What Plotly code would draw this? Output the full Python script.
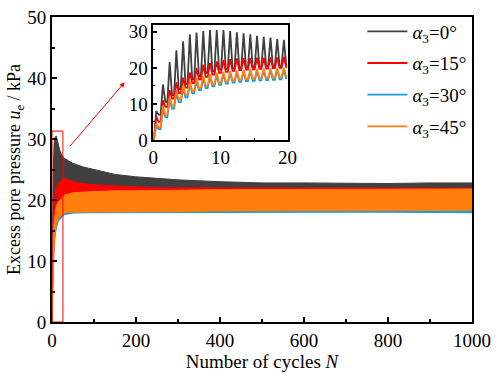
import plotly.graph_objects as go

# ---------------- data ----------------
series_names = ["<i>α</i><sub>3</sub>=0°", "<i>α</i><sub>3</sub>=15°",
                "<i>α</i><sub>3</sub>=30°", "<i>α</i><sub>3</sub>=45°"]
colors = ["#404040", "#FF0000", "#1E9BD7", "#FF7F0E"]

# envelope of the dense cyclic signal (main plot)
N_env = [0, 1, 2, 3, 5, 7, 10, 15, 20, 25, 30, 40, 50, 75, 100, 150, 200, 250,
         300, 400, 500, 600, 700, 800, 900, 1000]
gray_up = [0, 15.4, 21.6, 24.9, 29.3, 30.2, 30.5, 29.0, 27.8, 27.2, 26.8, 26.4, 26.0,
           25.4, 25.0, 24.2, 23.8, 23.5, 23.3, 23.0, 22.8, 22.8, 22.7, 22.7, 22.8, 22.8]
gray_lo = [0, 7.0, 10.6, 12.4, 15.5, 17.7, 19.5, 19.8, 20.0, 19.5, 19.0, 18.7, 18.5,
           18.4, 18.3, 18.3, 18.3, 18.3, 18.3, 18.3, 18.3, 18.3, 18.3, 18.3, 18.3, 18.3]
red_up = [0, 11.0, 13.8, 16.0, 18.7, 20.9, 22.2, 22.8, 23.0, 23.5, 23.5, 23.3, 23.0,
          22.7, 22.5, 22.3, 22.1, 22.0, 22.0, 21.95, 21.95, 21.95, 21.95, 21.95, 21.95, 21.95]
red_lo = [0, 5.0, 9.2, 11.5, 14.5, 16.8, 18.5, 19.0, 19.0, 18.7, 18.5, 18.3, 18.2,
          18.2, 18.2, 18.2, 18.2, 18.2, 18.2, 18.2, 18.2, 18.2, 18.2, 18.2, 18.2, 18.2]
blue_up = [0, 8.5, 11.0, 12.8, 15.5, 17.1, 18.3, 19.2, 19.5, 20.0, 20.3, 20.6, 20.8,
           21.0, 21.1, 21.2, 21.3, 21.3, 21.4, 21.4, 21.5, 21.5, 21.5, 21.5, 21.5, 21.5]
blue_lo = [0, 3.0, 6.3, 8.7, 11.8, 13.8, 15.3, 16.5, 16.9, 17.3, 17.6, 17.75, 17.85,
           17.9, 17.9, 17.9, 17.9, 17.9, 17.9, 17.9, 17.9, 18.0, 18.0, 18.0, 18.0, 17.9]
orange_up = [0, 9.5, 12.0, 13.8, 16.3, 17.8, 18.9, 19.7, 20.0, 20.5, 20.8, 21.0, 21.2,
             21.3, 21.4, 21.5, 21.5, 21.6, 21.6, 21.7, 21.7, 21.8, 21.8, 21.8, 21.8, 21.8]
orange_lo = [0, 3.5, 7.0, 9.5, 12.5, 14.4, 15.9, 17.0, 17.4, 17.7, 17.9, 18.0, 18.0,
             18.0, 18.0, 18.0, 18.0, 18.1, 18.1, 18.2, 18.2, 18.3, 18.3, 18.3, 18.3, 18.3]

# inset: per-cycle peaks and troughs for the first 20 cycles
cycles = list(range(20))
gray_pk = [8.0, 15.4, 21.6, 24.9, 27.4, 29.3, 29.8, 30.2, 30.5, 30.5, 30.5, 30.2, 29.9,
           29.6, 29.3, 28.9, 28.6, 28.4, 28.0, 27.8]
gray_tr = [7.0, 10.6, 12.4, 14.1, 15.5, 16.8, 17.7, 18.6, 19.0, 19.5, 19.7, 19.9, 20.0,
           20.1, 20.2, 20.3, 20.4, 20.4, 20.5, 20.5]
red_pk = [6.5, 11.0, 13.8, 16.0, 17.3, 18.7, 20.0, 20.9, 21.3, 21.8, 22.2, 22.4, 22.6,
          22.7, 22.7, 22.8, 22.8, 22.9, 22.9, 23.0]
red_tr = [5.0, 9.2, 11.5, 13.0, 14.5, 15.8, 16.8, 17.5, 18.1, 18.6, 18.9, 19.2, 19.4,
          19.5, 19.6, 19.7, 19.8, 19.9, 20.0, 20.0]
blue_pk = [4.0, 8.5, 11.0, 12.8, 14.2, 15.5, 16.5, 17.1, 17.6, 18.0, 18.3, 18.6, 18.8,
           19.0, 19.1, 19.2, 19.3, 19.4, 19.5, 19.5]
blue_tr = [3.0, 6.3, 8.7, 10.5, 11.8, 12.9, 13.8, 14.4, 14.9, 15.3, 15.6, 15.9, 16.1,
           16.3, 16.4, 16.5, 16.6, 16.7, 16.8, 16.9]
orange_pk = [4.5, 9.5, 12.0, 13.8, 15.1, 16.3, 17.3, 17.8, 18.2, 18.6, 18.9, 19.1, 19.3,
             19.5, 19.6, 19.7, 19.8, 19.9, 20.0, 20.0]
orange_tr = [3.5, 7.0, 9.5, 11.3, 12.5, 13.6, 14.4, 15.0, 15.5, 15.9, 16.2, 16.5, 16.7,
             16.9, 17.0, 17.1, 17.2, 17.3, 17.4, 17.5]

x_ticks_main = [0, 200, 400, 600, 800, 1000]
y_ticks_main = [0, 10, 20, 30, 40, 50]
x_ticks_inset = [0, 10, 20]
y_ticks_inset = [0, 10, 20, 30]

FONT = "Liberation Serif"
FS = 19

envelopes = [(gray_up, gray_lo), (red_up, red_lo), (blue_up, blue_lo), (orange_up, orange_lo)]
inset = [(gray_pk, gray_tr), (red_pk, red_tr), (blue_pk, blue_tr), (orange_pk, orange_tr)]

fig = go.Figure()

# main bands
for (up, lo), c in zip(envelopes, colors):
    fig.add_trace(go.Scatter(x=N_env + N_env[::-1], y=up + lo[::-1], fill="toself",
                             fillcolor=c, line=dict(color=c, width=1), mode="lines",
                             showlegend=False, hoverinfo="skip", xaxis="x", yaxis="y"))

# inset zig-zag curves
for i, ((pk, tr), c, name) in enumerate(zip(inset, colors, series_names)):
    xs, ys = [0.0], [0.0]
    prev = 0.0
    for k in cycles:
        xs += [k + 0.1, k + 0.45, k + 0.8]
        ys += [prev, pk[k], tr[k]]
        prev = tr[k]
    fig.add_trace(go.Scatter(x=xs, y=ys, mode="lines", line=dict(color=c, width=1.8),
                             name=name, legendgroup=f"g{i}", xaxis="x2", yaxis="y2"))

axis_common = dict(showline=True, linecolor="black", mirror=True, ticks="inside",
                   tickcolor="black", showgrid=False, zeroline=False,
                   ticklabeloverflow="allow",
                   tickfont=dict(family=FONT, size=FS, color="black"))

fig.update_layout(
    width=498, height=373,
    margin=dict(l=52, r=19, t=7, b=48),
    plot_bgcolor="white", paper_bgcolor="white",
    font=dict(family=FONT, size=FS, color="black"),
    xaxis=dict(range=[0, 1000], tickvals=x_ticks_main, linewidth=2, ticklen=5, tickwidth=2,
               minor=dict(dtick=100, ticks="inside", ticklen=3, tickwidth=1.5, tickcolor="black"),
               title=dict(text="Number of cycles <i>N</i>", font=dict(family=FONT, size=FS), standoff=2),
               **axis_common),
    yaxis=dict(range=[0, 50], tickvals=y_ticks_main, linewidth=2, ticklen=5, tickwidth=2,
               minor=dict(dtick=5, ticks="inside", ticklen=3, tickwidth=1.5, tickcolor="black"),
               title=dict(text="Excess pore pressure <i>u</i><sub>e</sub> / kPa",
                          font=dict(family=FONT, size=18), standoff=0),
               **axis_common),
    xaxis2=dict(domain=[0.241, 0.561], anchor="y2", range=[0, 20], tickvals=x_ticks_inset,
                linewidth=1.5, ticklen=4, tickwidth=1.5,
                minor=dict(dtick=5, ticks="inside", ticklen=2, tickwidth=1, tickcolor="black"),
                **axis_common),
    yaxis2=dict(domain=[0.597, 0.975], anchor="x2", range=[0, 32], tickvals=y_ticks_inset,
                linewidth=1.5, ticklen=4, tickwidth=1.5,
                minor=dict(dtick=5, ticks="inside", ticklen=2, tickwidth=1, tickcolor="black"),
                **axis_common),
    legend=dict(x=0.739, y=1.015, xanchor="left", yanchor="top", bgcolor="rgba(0,0,0,0)",
                font=dict(family=FONT, size=FS), itemwidth=40, tracegroupgap=4),
    shapes=[dict(type="rect", xref="x", yref="y", x0=0, x1=26, y0=0, y1=31.3,
                 line=dict(color="red", width=1))],
    annotations=[dict(x=173, y=39.3, ax=40, ay=28.6, xref="x", yref="y", axref="x", ayref="y",
                      showarrow=True, arrowhead=2, arrowsize=1, arrowwidth=1, arrowcolor="red",
                      text="")],
)

fig.write_html("out.html", config={"displayModeBar": False},
               post_script="document.body.style.margin='0';")
